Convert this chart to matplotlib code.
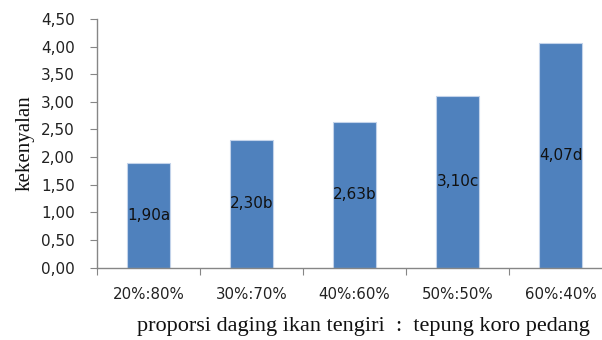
import matplotlib
matplotlib.use("Agg")
import matplotlib.pyplot as plt
from matplotlib.ticker import FixedLocator, NullFormatter

# Texture (kekenyalan) by mackerel : sword bean flour proportion
categories = ["20%:80%", "30%:70%", "40%:60%", "50%:50%", "60%:40%"]
values = [1.90, 2.30, 2.63, 3.10, 4.07]
letters = ["a", "b", "b", "c", "d"]
yticks = [0.0, 0.5, 1.0, 1.5, 2.0, 2.5, 3.0, 3.5, 4.0, 4.5]

W, H = 602, 340
fig = plt.figure(figsize=(W / 100, H / 100), dpi=100)
# axes box in pixels: left 97, right 602 (axis runs past the edge), y from 19 to 267.5
left, right, top, bottom = 97, 602, 19, 267.5
ax = fig.add_axes([left / W, 1 - bottom / H, (right - left) / W, (bottom - top) / H])

x = list(range(len(categories)))
ax.bar(x, values, width=0.41, color="#4F81BD", edgecolor="#C3D3EA", linewidth=0.8, zorder=2)

for xi, v, l in zip(x, values, letters):
    ax.text(xi, v / 2, f"{v:.2f}".replace(".", ",") + l, ha="center", va="center",
            fontsize=11, color="#111111", family="DejaVu Sans", zorder=3)

span = (right - left) / 103.0
ax.set_xlim(-0.5, -0.5 + span)
ax.set_ylim(0, 4.5)

ax.set_yticks(yticks)
ax.set_yticklabels([f"{t:.2f}".replace(".", ",") for t in yticks], fontsize=11,
                   color="#222222", family="DejaVu Sans")

# category ticks between groups; labels at group centres
ax.xaxis.set_major_locator(FixedLocator([i + 0.5 for i in range(-1, len(categories))]))
ax.xaxis.set_major_formatter(NullFormatter())
ax.xaxis.set_minor_locator(FixedLocator(x))
ax.set_xticklabels(categories, minor=True, fontsize=10.8, color="#222222", family="DejaVu Sans")
ax.tick_params(axis="x", which="minor", length=0, pad=14)
ax.tick_params(axis="x", which="major", length=5, color="#868686", direction="out")
ax.tick_params(axis="y", length=5, color="#868686", direction="out", pad=11)

for s in ("top", "right"):
    ax.spines[s].set_visible(False)
for s in ("left", "bottom"):
    ax.spines[s].set_color("#868686")
    ax.spines[s].set_linewidth(1.0)

fig.text(363 / W, 1 - 327 / H, "proporsi daging ikan tengiri  :  tepung koro pedang",
         ha="center", va="center", fontsize=16, family="Liberation Serif", color="#111111")
fig.text(25 / W, 1 - 143 / H, "kekenyalan", ha="center", va="center", rotation=90,
         fontsize=15, family="Liberation Serif", color="#111111")

fig.savefig("out.png", dpi=100)
